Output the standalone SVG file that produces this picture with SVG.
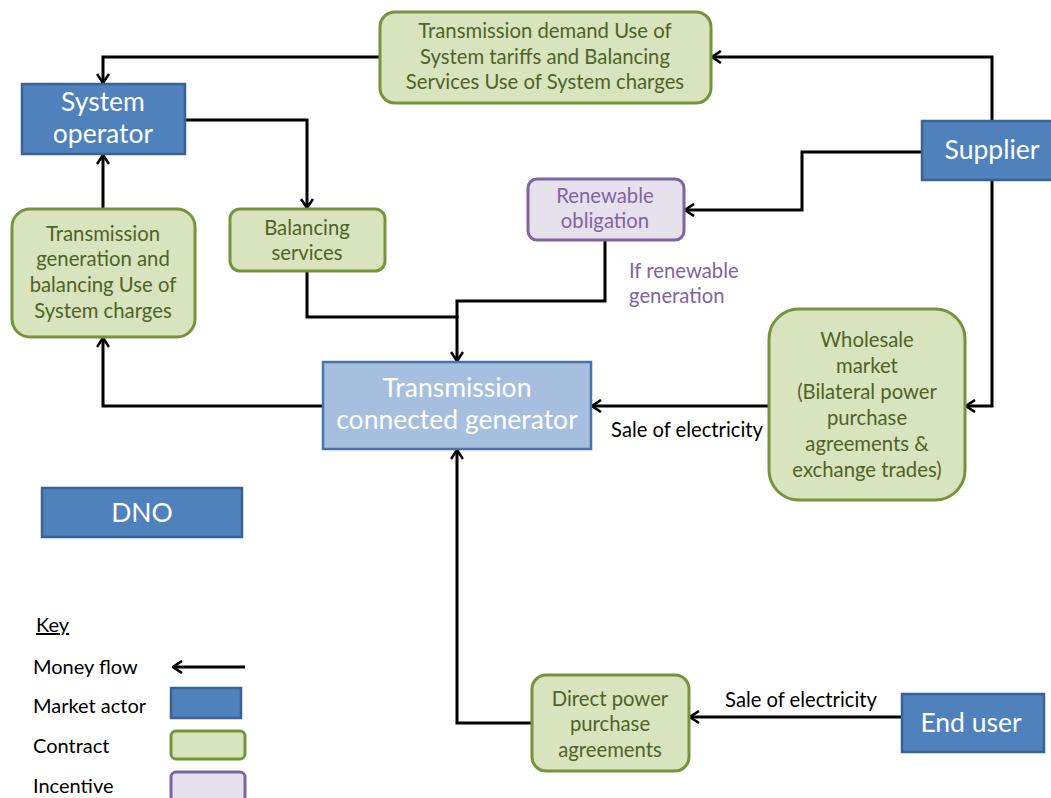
<svg xmlns="http://www.w3.org/2000/svg" width="1051" height="798" viewBox="0 0 1051 798">
  <style>
    text { font-family: Lato, "Open Sans", "Liberation Sans", sans-serif; text-anchor: middle; }
    .actor { fill: #4F81BD; stroke: #3A6393; stroke-width: 2.5; }
    .gen { fill: #A7BFDE; stroke: #4A74A8; stroke-width: 2.5; }
    .contract { fill: #D7E4BD; stroke: #77933C; stroke-width: 3; }
    .incentive { fill: #E6E0EC; stroke: #8064A2; stroke-width: 3; }
    .t-actor { fill: #FFFFFF; font-size: 26.5px; }
    .t-contract { fill: #4F6228; font-size: 20.3px; }
    .t-incentive { fill: #8064A2; font-size: 20.3px; }
    .t-label { fill: #000000; font-size: 20.2px; }
    .t-key { fill: #000000; font-size: 20px; text-anchor: start; }
    .flow { fill: none; stroke: #000000; stroke-width: 3; }
  </style>
  <defs>
    <marker id="arrow" viewBox="0 0 12 14" refX="11" refY="7" markerWidth="12" markerHeight="14" markerUnits="userSpaceOnUse" orient="auto">
      <path d="M2,1 L11,7 L2,13" fill="none" stroke="#000000" stroke-width="2.6"/>
    </marker>
  </defs>

  <rect width="1051" height="798" fill="#FFFFFF"/>

  <!-- money flows -->
  <g id="connectors">
    <polyline class="flow" points="992,121 992,57 712,57" marker-end="url(#arrow)"/>
    <polyline class="flow" points="380,57 103,57 103,83" marker-end="url(#arrow)"/>
    <polyline class="flow" points="186,120 307,120 307,208" marker-end="url(#arrow)"/>
    <polyline class="flow" points="103,209 103,155" marker-end="url(#arrow)"/>
    <polyline class="flow" points="322,406 103,406 103,338" marker-end="url(#arrow)"/>
    <polyline class="flow" points="307,271 307,317 457,317 457,361" marker-end="url(#arrow)"/>
    <polyline class="flow" points="605,240 605,301 457,301 457,318"/>
    <polyline class="flow" points="922,152 802,152 802,210 685,210" marker-end="url(#arrow)"/>
    <polyline class="flow" points="992,180 992,406 966,406" marker-end="url(#arrow)"/>
    <polyline class="flow" points="769,406 592,406" marker-end="url(#arrow)"/>
    <polyline class="flow" points="902,717 690,717" marker-end="url(#arrow)"/>
    <polyline class="flow" points="532,723 457,723 457,450" marker-end="url(#arrow)"/>
  </g>

  <g id="tnuos-demand">
    <rect class="contract" x="380" y="12" width="331" height="91" rx="15"/>
    <text class="t-contract" x="545" y="38">Transmission demand Use of</text>
    <text class="t-contract" x="545" y="64">System tariffs and Balancing</text>
    <text class="t-contract" x="545" y="89">Services Use of System charges</text>
  </g>

  <g id="system-operator">
    <rect class="actor" x="22" y="84" width="163" height="70"/>
    <text class="t-actor" x="103" y="111">System</text>
    <text class="t-actor" x="103" y="143">operator</text>
  </g>

  <g id="supplier">
    <rect class="actor" x="922" y="121" width="134" height="59"/>
    <text class="t-actor" x="992" y="159">Supplier</text>
  </g>

  <g id="renewable-obligation">
    <rect class="incentive" x="528" y="179" width="156" height="61" rx="9"/>
    <text class="t-incentive" x="605" y="203">Renewable</text>
    <text class="t-incentive" x="605" y="228">obligation</text>
  </g>

  <g id="renewable-note">
    <text class="t-incentive" x="629" y="278" style="text-anchor:start">If renewable</text>
    <text class="t-incentive" x="629" y="303" style="text-anchor:start">generation</text>
  </g>

  <g id="balancing-services">
    <rect class="contract" x="230" y="209" width="155" height="62" rx="10"/>
    <text class="t-contract" x="307" y="235">Balancing</text>
    <text class="t-contract" x="307" y="260">services</text>
  </g>

  <g id="tnuos-generation">
    <rect class="contract" x="12" y="209" width="183" height="128" rx="18"/>
    <text class="t-contract" x="103" y="241">Transmission</text>
    <text class="t-contract" x="103" y="266">generation and</text>
    <text class="t-contract" x="103" y="292">balancing Use of</text>
    <text class="t-contract" x="103" y="318">System charges</text>
  </g>

  <g id="generator">
    <rect class="gen" x="323" y="362" width="268" height="87"/>
    <text class="t-actor" x="457" y="397">Transmission</text>
    <text class="t-actor" x="457" y="429">connected generator</text>
  </g>

  <g id="wholesale-market">
    <rect class="contract" x="769" y="309" width="196" height="191" rx="30"/>
    <text class="t-contract" x="867" y="347">Wholesale</text>
    <text class="t-contract" x="867" y="373">market</text>
    <text class="t-contract" x="867" y="399">(Bilateral power</text>
    <text class="t-contract" x="867" y="425">purchase</text>
    <text class="t-contract" x="867" y="451">agreements &amp;</text>
    <text class="t-contract" x="867" y="477">exchange trades)</text>
  </g>

  <g id="wholesale-sale-label">
    <text class="t-label" x="687" y="437">Sale of electricity</text>
  </g>

  <g id="dno">
    <rect class="actor" x="42" y="488" width="200" height="49"/>
    <text class="t-actor" x="142" y="522">DNO</text>
  </g>

  <g id="direct-ppa">
    <rect class="contract" x="532" y="675" width="157" height="96" rx="14"/>
    <text class="t-contract" x="610" y="706">Direct power</text>
    <text class="t-contract" x="610" y="731">purchase</text>
    <text class="t-contract" x="610" y="757">agreements</text>
  </g>

  <g id="end-user">
    <rect class="actor" x="902" y="694" width="142" height="58"/>
    <text class="t-actor" x="971" y="732">End user</text>
  </g>

  <g id="direct-sale-label">
    <text class="t-label" x="801" y="707">Sale of electricity</text>
  </g>

  <g id="key">
    <text class="t-key" x="36" y="632" text-decoration="underline">Key</text>
    <text class="t-key" x="33" y="674">Money flow</text>
    <line class="flow" x1="245" y1="667" x2="173" y2="667" marker-end="url(#arrow)"/>
    <text class="t-key" x="33" y="713">Market actor</text>
    <rect class="actor" x="171" y="688" width="70" height="30"/>
    <text class="t-key" x="33" y="753">Contract</text>
    <rect class="contract" x="171" y="731" width="74" height="28" rx="5"/>
    <text class="t-key" x="33" y="793">Incentive</text>
    <rect class="incentive" x="171" y="772" width="74" height="30" rx="5"/>
  </g>
</svg>
